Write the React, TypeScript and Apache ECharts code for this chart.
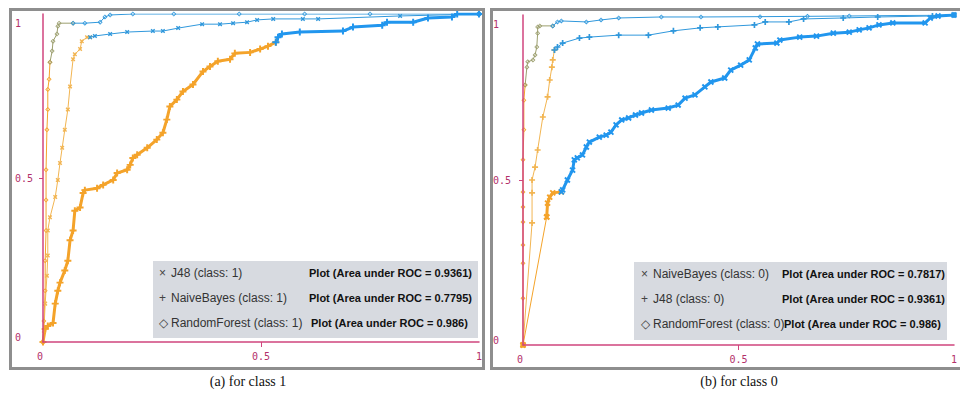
import React, { useEffect, useRef } from "react";
import * as echarts from "echarts";

// ---------- data: class 1 (left panel) ----------
const j48C1Orange = [
  [0, 0], [0.002, 0.034], [0.005, 0.117], [0.009, 0.202], [0.011, 0.264], [0.011, 0.34],
  [0.016, 0.38], [0.028, 0.442], [0.034, 0.494], [0.039, 0.546], [0.044, 0.592], [0.05, 0.647],
  [0.057, 0.709], [0.062, 0.779], [0.069, 0.862], [0.073, 0.877], [0.085, 0.893], [0.089, 0.917],
  [0.101, 0.929], [0.108, 0.929],
];
const j48C1Blue = [
  [0.119, 0.933], [0.154, 0.939], [0.193, 0.945], [0.252, 0.948], [0.275, 0.948], [0.31, 0.957],
  [0.365, 0.969], [0.406, 0.969], [0.436, 0.972], [0.468, 0.975], [0.491, 0.982], [0.528, 0.985],
  [0.596, 0.985], [0.631, 0.985], [0.819, 0.994], [1, 1],
];
const nbC1Orange = [
  [0, 0], [0.005, 0.04], [0.011, 0.049], [0.023, 0.058], [0.028, 0.117], [0.034, 0.156],
  [0.039, 0.181], [0.05, 0.218], [0.057, 0.248], [0.062, 0.31], [0.069, 0.34], [0.073, 0.4],
  [0.085, 0.41], [0.092, 0.454], [0.096, 0.463], [0.124, 0.469], [0.138, 0.479], [0.161, 0.494],
  [0.17, 0.515], [0.193, 0.525], [0.2, 0.54], [0.206, 0.561], [0.216, 0.571], [0.239, 0.592],
  [0.261, 0.617], [0.275, 0.638], [0.284, 0.678], [0.291, 0.718], [0.307, 0.739], [0.321, 0.764],
  [0.344, 0.785], [0.367, 0.825], [0.383, 0.84], [0.401, 0.856], [0.429, 0.862], [0.44, 0.88],
  [0.475, 0.883], [0.498, 0.893], [0.516, 0.902], [0.534, 0.914],
];
const nbC1Blue = [
  [0.539, 0.929], [0.548, 0.939], [0.589, 0.945], [0.688, 0.948], [0.711, 0.96], [0.778, 0.966],
  [0.789, 0.975], [0.849, 0.975], [0.883, 0.988], [0.938, 0.991], [0.95, 1.0], [1, 1],
];
const rfC1Orange = [
  [0, 0], [0.002, 0.064], [0.005, 0.156], [0.005, 0.248], [0.007, 0.34], [0.007, 0.433],
  [0.007, 0.525], [0.009, 0.647], [0.011, 0.709], [0.011, 0.77], [0.014, 0.801], [0.016, 0.853],
];
const rfC1Olive = [
  [0.021, 0.887], [0.023, 0.917], [0.032, 0.939], [0.034, 0.963], [0.037, 0.972], [0.069, 0.972],
];
const rfC1Blue = [
  [0.096, 0.972], [0.131, 0.975], [0.142, 0.991], [0.154, 0.997], [0.206, 1.0], [0.3, 1.0],
  [0.45, 1.0], [0.6, 1.0], [0.75, 1.0], [1, 1],
];

// ---------- data: class 0 (right panel) ----------
const nbC0Start = [[0, 0]];
const nbC0Ramp = [[0.055, 0.388]];
const nbC0Orange = [[0.057, 0.43], [0.062, 0.448], [0.069, 0.461], [0.089, 0.464]];
const nbC0Blue = [
  [0.092, 0.47], [0.103, 0.5], [0.115, 0.53], [0.119, 0.561], [0.126, 0.567], [0.138, 0.576],
  [0.147, 0.6], [0.154, 0.615], [0.177, 0.63], [0.193, 0.636], [0.204, 0.645], [0.216, 0.667],
  [0.229, 0.682], [0.245, 0.688], [0.261, 0.697], [0.275, 0.703], [0.298, 0.712], [0.337, 0.718],
  [0.36, 0.727], [0.376, 0.748], [0.399, 0.758], [0.422, 0.782], [0.436, 0.797], [0.468, 0.809],
  [0.482, 0.833], [0.505, 0.848], [0.525, 0.864], [0.539, 0.9], [0.544, 0.912], [0.589, 0.915],
  [0.596, 0.924], [0.642, 0.933], [0.681, 0.936], [0.72, 0.945], [0.757, 0.948], [0.78, 0.955],
  [0.803, 0.961], [0.826, 0.97], [0.858, 0.976], [0.933, 0.976], [0.945, 0.991], [0.963, 0.997],
  [1, 1],
];
const j48C0Orange = [
  [0, 0], [0.021, 0.37], [0.021, 0.461], [0.021, 0.5], [0.028, 0.539], [0.034, 0.591],
  [0.046, 0.691], [0.057, 0.752], [0.062, 0.803], [0.067, 0.842], [0.069, 0.864], [0.073, 0.894],
];
const j48C0Blue = [
  [0.08, 0.903], [0.092, 0.915], [0.131, 0.93], [0.154, 0.933], [0.222, 0.939], [0.291, 0.939],
  [0.349, 0.952], [0.411, 0.961], [0.452, 0.964], [0.537, 0.97], [0.562, 0.979], [0.617, 0.979],
  [0.651, 0.988], [0.743, 0.991], [0.823, 0.994], [0.95, 0.997], [1, 1],
];
const rfC0Orange = [
  [0, 0], [0, 0.142], [0, 0.248], [0, 0.303], [0, 0.373], [0, 0.418], [0, 0.464], [0, 0.561],
  [0.002, 0.652], [0.002, 0.742], [0.005, 0.788],
];
const rfC0Olive = [
  [0.009, 0.842], [0.011, 0.858], [0.023, 0.864], [0.028, 0.879], [0.032, 0.903], [0.034, 0.945],
  [0.034, 0.964], [0.039, 0.967], [0.069, 0.967],
];
const rfC0Blue = [
  [0.08, 0.979], [0.089, 0.982], [0.147, 0.979], [0.181, 0.985], [0.222, 0.991], [0.321, 0.994],
  [0.413, 0.994], [0.55, 0.995], [0.66, 0.996], [0.757, 0.997], [1, 1],
];

// ---------- texts ----------
const axisTicks = [0, 0.5, 1];
const legendSymbols1 = ["×", "+", "◇"];
const legendNames1 = ["J48 (class: 1)", "NaiveBayes (class: 1)", "RandomForest (class: 1)"];
const legendAuc1 = ["0.9361", "0.7795", "0.986"];
const legendSymbols0 = ["×", "+", "◇"];
const legendNames0 = ["NaiveBayes (class: 0)", "J48 (class: 0)", "RandomForest (class: 0)"];
const legendAuc0 = ["0.7817", "0.9361", "0.986"];
const captions = ["(a) for class 1", "(b) for class 0"];

const ORANGE = "#f4a32a";
const ORANGE_LIGHT = "#f2b552";
const OLIVE = "#9c9f6e";
const BLUE = "#3098dc";
const BLUE_DENSE = "#2196ee";
const AXIS = "#d0457e";
const LABEL = "#b3306a";

const PLUS = "path://M3.6,0H6.4V3.6H10V6.4H6.4V10H3.6V6.4H0V3.6H3.6Z";
const DIAMOND = "path://M5,0L10,5L5,10L0,5ZM5,2.2L2.2,5L5,7.8L7.8,5Z";

type Seg = { data: number[][]; color: string; width?: number };

function curve(
  name: string,
  segs: Seg[],
  grid: number,
  symbol: string,
  rotate: number,
  size: number,
  lw: number
) {
  return segs.map((s, i) => {
    const prev = i > 0 ? segs[i - 1].data[segs[i - 1].data.length - 1] : null;
    const data = prev ? [prev, ...s.data] : s.data;
    return {
      type: "line",
      name,
      xAxisIndex: grid,
      yAxisIndex: grid,
      data,
      showSymbol: true,
      symbol,
      symbolRotate: rotate,
      symbolSize: size,
      lineStyle: { color: s.color, width: s.width ?? lw },
      itemStyle: { color: s.color },
      emphasis: { disabled: true },
      z: 2,
    };
  });
}

function axes(grid: number, yMargin: number) {
  const x = {
    type: "value",
    gridIndex: grid,
    min: 0,
    max: 1,
    interval: 0.5,
    splitLine: { show: false },
    axisLine: { lineStyle: { color: AXIS, width: 1.5 } },
    axisTick: { show: true, customValues: [0.5], length: 5, lineStyle: { color: AXIS } },
    axisLabel: {
      customValues: axisTicks,
      color: LABEL,
      fontFamily: "DejaVu Sans Mono",
      fontSize: 10,
      margin: 9,
      alignMinLabel: "right",
      formatter: (v: number) => String(v),
    },
    z: 3,
  };
  const y = {
    type: "value",
    gridIndex: grid,
    min: 0,
    max: 1,
    interval: 0.5,
    splitLine: { show: false },
    axisLine: { lineStyle: { color: AXIS, width: 1.5 } },
    axisTick: { show: true, customValues: [0.5], length: 4, lineStyle: { color: AXIS } },
    axisLabel: {
      customValues: axisTicks,
      color: LABEL,
      fontFamily: "DejaVu Sans Mono",
      fontSize: 10,
      margin: yMargin,
      align: "left",
      verticalAlignMaxLabel: "top",
      verticalAlignMinLabel: "bottom",
      formatter: (v: number) => (v === 1 ? "{top|1}" : String(v)),
      rich: { top: { padding: [4, 0, 0, 0], color: LABEL, fontFamily: "DejaVu Sans Mono", fontSize: 10 } },
    },
    z: 3,
  };
  return { x, y };
}

function legendBox(
  bx: number,
  by: number,
  bw: number,
  bh: number,
  symX: number,
  nameX: number,
  plotX: number[],
  rowsY: number[],
  syms: string[],
  names: string[],
  aucs: string[]
) {
  const els: any[] = [
    {
      type: "rect",
      shape: { x: bx, y: by, width: bw, height: bh },
      style: { fill: "#d7dae0" },
      z: 10,
    },
  ];
  names.forEach((n, i) => {
    els.push({
      type: "text",
      x: symX,
      y: rowsY[i],
      style: {
        text: syms[i],
        font: '12px "Liberation Sans", Arial, sans-serif',
        fill: "#444",
        verticalAlign: "middle",
      },
      z: 11,
    });
    els.push({
      type: "text",
      x: nameX,
      y: rowsY[i],
      style: {
        text: n,
        font: '12px "Liberation Sans", Arial, sans-serif',
        fill: "#333",
        verticalAlign: "middle",
      },
      z: 11,
    });
    els.push({
      type: "text",
      x: plotX[i],
      y: rowsY[i],
      style: {
        text: `Plot (Area under ROC = ${aucs[i]})`,
        font: 'bold 11px "Liberation Sans", Arial, sans-serif',
        fill: "#111",
        verticalAlign: "middle",
      },
      z: 11,
    });
  });
  return els;
}

export default function App() {
  const ref = useRef<HTMLDivElement>(null);
  useEffect(() => {
    if (!ref.current) return;
    const chart = echarts.init(ref.current, undefined, { renderer: "svg" });
    const a0 = axes(0, 28);
    const a1 = axes(1, 30);
    const series = [
      ...curve("RandomForest (class: 1)", [
        { data: rfC1Orange, color: ORANGE },
        { data: rfC1Olive, color: OLIVE },
        { data: rfC1Blue, color: BLUE },
      ], 0, DIAMOND, 0, 5, 1),
      ...curve("J48 (class: 1)", [
        { data: j48C1Orange, color: ORANGE_LIGHT },
        { data: j48C1Blue, color: BLUE },
      ], 0, PLUS, 45, 5, 1),
      ...curve("NaiveBayes (class: 1)", [
        { data: nbC1Orange, color: ORANGE },
        { data: nbC1Blue, color: BLUE_DENSE },
      ], 0, PLUS, 0, 7, 3),
      ...curve("RandomForest (class: 0)", [
        { data: rfC0Orange, color: ORANGE },
        { data: rfC0Olive, color: OLIVE },
        { data: rfC0Blue, color: BLUE },
      ], 1, DIAMOND, 0, 5, 1),
      ...curve("J48 (class: 0)", [
        { data: j48C0Orange, color: ORANGE_LIGHT },
        { data: j48C0Blue, color: BLUE },
      ], 1, PLUS, 0, 6, 1),
      ...curve("NaiveBayes (class: 0)", [
        { data: nbC0Start, color: ORANGE },
        { data: nbC0Ramp, color: ORANGE, width: 1 },
        { data: nbC0Orange, color: ORANGE },
        { data: nbC0Blue, color: BLUE_DENSE },
      ], 1, PLUS, 45, 7, 3),
    ];
    chart.setOption({
      animation: false,
      backgroundColor: "#ffffff",
      grid: [
        { left: 43, top: 14, width: 436, height: 328 },
        { left: 523, top: 15, width: 436, height: 330 },
      ],
      xAxis: [a0.x, a1.x],
      yAxis: [a0.y, a1.y],
      series,
      graphic: {
        elements: [
          {
            type: "rect",
            shape: { x: 10.5, y: 9.5, width: 473, height: 359 },
            style: { fill: "none", stroke: "#8e8e8e", lineWidth: 3 },
            z: 12,
          },
          {
            type: "rect",
            shape: { x: 491.5, y: 9.5, width: 480, height: 359 },
            style: { fill: "none", stroke: "#8e8e8e", lineWidth: 3 },
            z: 12,
          },
          ...legendBox(153, 261, 325, 77, 159, 171, [309, 309, 311], [273, 298, 323],
            legendSymbols1, legendNames1, legendAuc1),
          ...legendBox(634, 262, 313, 78, 641, 653, [782, 782, 784], [274, 299, 324],
            legendSymbols0, legendNames0, legendAuc0),
          {
            type: "text",
            x: 248,
            y: 381,
            style: {
              text: captions[0],
              font: '14px "Liberation Serif", "Times New Roman", serif',
              fill: "#111",
              align: "center",
              verticalAlign: "middle",
            },
            z: 12,
          },
          {
            type: "text",
            x: 739,
            y: 381,
            style: {
              text: captions[1],
              font: '14px "Liberation Serif", "Times New Roman", serif',
              fill: "#111",
              align: "center",
              verticalAlign: "middle",
            },
            z: 12,
          },
        ],
      },
    });
    return () => chart.dispose();
  }, []);
  return (
    <div
      ref={ref}
      style={{ position: "fixed", left: 0, top: 0, width: 960, height: 393, background: "#fff" }}
    />
  );
}
